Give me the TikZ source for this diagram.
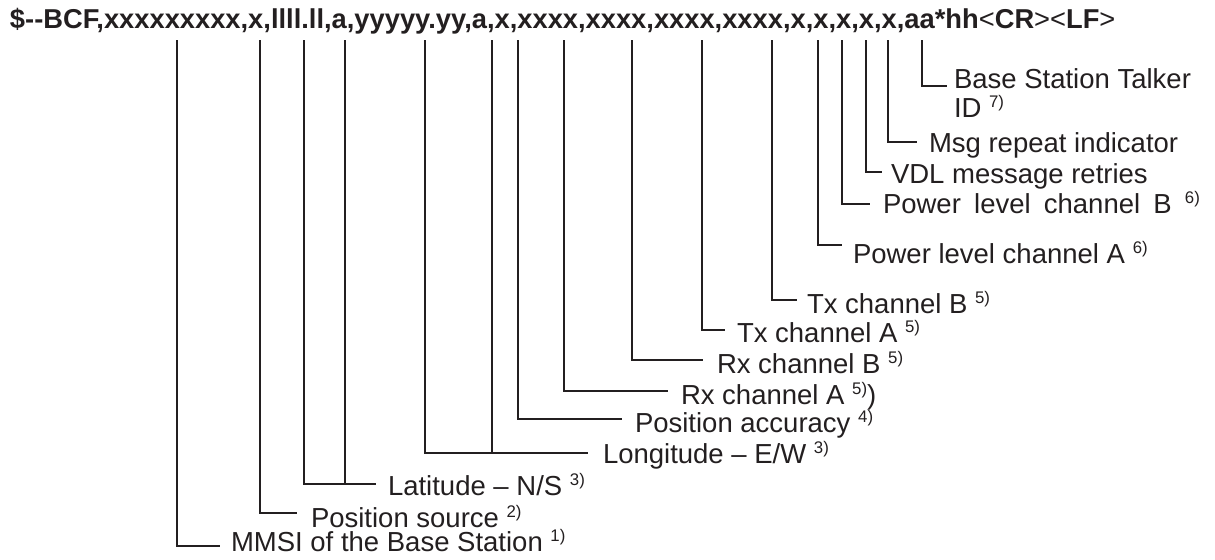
\documentclass[tikz,border=0pt]{standalone}
\usepackage{fontspec}
\setmainfont{Liberation Sans}
\definecolor{ink}{RGB}{35,31,32}
\tikzset{
  hdrtext/.style={anchor=base west, inner sep=0pt, outer sep=0pt, text=ink, font=\fontsize{13.65}{16}\selectfont\bfseries},
  lbl/.style={anchor=base west, inner sep=0pt, outer sep=0pt, text=ink, font=\fontsize{13.75}{16}\selectfont},
  lead/.style={draw=ink, line width=0.65pt},
}
\newcommand\sups[1]{\raisebox{5pt}{\fontsize{8.4}{9}\selectfont #1}}
\newcommand\wsp{\hspace*{6.6pt}}
\begin{document}
\begin{tikzpicture}[x=0.5pt,y=-0.5pt]
\useasboundingbox (0,0) rectangle (1215,559);
\node[hdrtext] (hdr) at (10,28) {\$-{}-BCF,xxxxxxxxx,x,llll.ll,a,yyyyy.yy,a,x,xxxx,xxxx,xxxx,xxxx,x,x,x,x,x,aa*hh\textmd{<}CR\textmd{>}\textmd{<}LF\textmd{>}};

% top ends of the field leaders
\coordinate (tmmsi) at (177,40);
\coordinate (tpsrc) at (260,40);
\coordinate (tlat1) at (304,40);
\coordinate (tlat2) at (345,40);
\coordinate (tlon1) at (425,40);
\coordinate (tlon2) at (492,40);
\coordinate (tpacc) at (518,40);
\coordinate (trxa) at (564,40);
\coordinate (trxb) at (632,40);
\coordinate (ttxa) at (702,40);
\coordinate (ttxb) at (772,40);
\coordinate (tpwa) at (818,40);
\coordinate (tpwb) at (842,40);
\coordinate (tvdl) at (866,40);
\coordinate (tmsg) at (888,40);
\coordinate (ttlk) at (922,40);

% ends of the horizontal strokes
\coordinate (emmsi) at (220,546);
\coordinate (epsrc) at (297,513);
\coordinate (elat) at (376,484);
\coordinate (elon) at (588,453);
\coordinate (epacc) at (622,419);
\coordinate (erxa) at (668,391);
\coordinate (erxb) at (703,360);
\coordinate (etxa) at (725,330);
\coordinate (etxb) at (797,300);
\coordinate (epwa) at (842,245);
\coordinate (epwb) at (870,204);
\coordinate (evdl) at (882,172);
\coordinate (emsg) at (917,142);
\coordinate (etlk) at (947,86);

% labels
\node[lbl] (lmmsi) at (231,551) {MMSI of the Base Station~\sups{1)}};
\node[lbl] (lpsrc) at (311,527) {Position source~\sups{2)}};
\node[lbl] (llat) at (388,495) {Latitude -- N/S~\sups{3)}};
\node[lbl] (llon) at (603,463) {Longitude -- E/W~\sups{3)}};
\node[lbl] (lpacc) at (635,432) {Position accuracy~\sups{4)}};
\node[lbl] (lrxa) at (681,404) {Rx channel A~\sups{5)})};
\node[lbl] (lrxb) at (717,373) {Rx channel B~\sups{5)}};
\node[lbl] (ltxa) at (737,342) {Tx channel A~\sups{5)}};
\node[lbl] (ltxb) at (807,313) {Tx channel B~\sups{5)}};
\node[lbl] (lpwa) at (853,263) {Power level channel A~\sups{6)}};
\node[lbl] (lpwb) at (883,213) {Power\wsp level\wsp channel\wsp B\wsp\sups{6)}};
\node[lbl] (lvdl) at (891,183) {VDL message retries};
\node[lbl] (lmsg) at (929,152) {Msg repeat indicator};
\node[lbl] (ltlk) at (954,88) {Base Station Talker};
\node[lbl] (ltlkid) at (954,117) {ID~\sups{7)}};

% leaders
\draw[lead] (tmmsi) |- (emmsi);
\draw[lead] (tpsrc) |- (epsrc);
\draw[lead] (tlat1) |- (elat);
\draw[lead] (tlat2) |- (elat);
\draw[lead] (tlon1) |- (elon);
\draw[lead] (tlon2) |- (elon);
\draw[lead] (tpacc) |- (epacc);
\draw[lead] (trxa) |- (erxa);
\draw[lead] (trxb) |- (erxb);
\draw[lead] (ttxa) |- (etxa);
\draw[lead] (ttxb) |- (etxb);
\draw[lead] (tpwa) |- (epwa);
\draw[lead] (tpwb) |- (epwb);
\draw[lead] (tvdl) |- (evdl);
\draw[lead] (tmsg) |- (emsg);
\draw[lead] (ttlk) |- (etlk);
\end{tikzpicture}
\end{document}
